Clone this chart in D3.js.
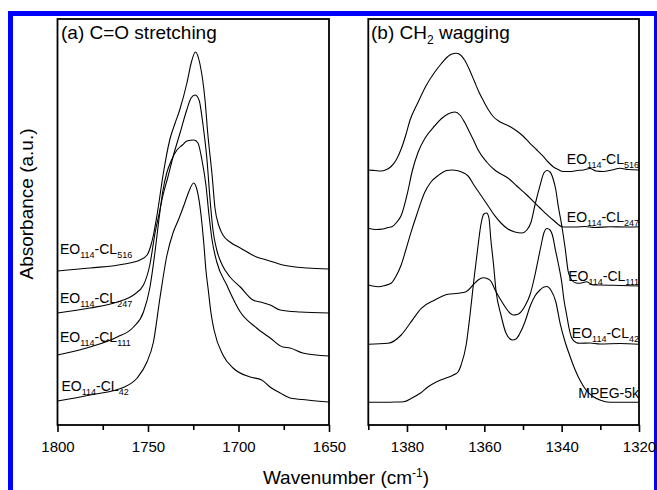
<!DOCTYPE html>
<html>
<head>
<meta charset="utf-8">
<script src="https://cdn.jsdelivr.net/npm/d3@7"></script>
<style>
body { margin: 0; background: #fff; }
text { font-family: "Liberation Sans", Arial, sans-serif; fill: #000; }
</style>
</head>
<body>
<script>
// spectra: [wavenumber (cm-1), absorbance (a.u., stacked offsets)]

// (a) C=O stretching
var coCL516 = [[1800,1.54],[1782,1.57],[1763,1.61],[1754.5,1.65],[1750.5,1.70],[1748.5,1.79],[1747,1.90],[1745,2.10],[1741.5,2.52],[1738,2.85],[1735,3.02],[1732.5,3.15],[1728.5,3.42],[1726,3.63],[1723.8,3.73],[1721.3,3.61],[1718.5,3.25],[1717,2.92],[1714.6,2.50],[1713,2.17],[1710.8,1.99],[1708.6,1.90],[1704.7,1.83],[1699,1.77],[1690,1.68],[1684.5,1.65],[1675.5,1.60],[1662,1.57],[1650,1.56]];
var coCL247 = [[1800,1.12],[1782,1.17],[1767,1.23],[1758,1.30],[1752.5,1.40],[1749,1.60],[1746,1.93],[1744,2.10],[1741.7,2.30],[1739,2.48],[1736.2,2.68],[1732.3,2.92],[1728.6,3.15],[1726.2,3.27],[1724,3.30],[1721.8,3.25],[1719.6,3.00],[1717.4,2.65],[1715.7,2.25],[1714.1,1.95],[1712,1.75],[1709,1.60],[1704.7,1.48],[1699,1.38],[1692,1.25],[1688,1.23],[1682.5,1.20],[1677,1.15],[1666,1.13],[1650,1.12]];
var coCL111 = [[1800,0.70],[1782,0.78],[1767,0.88],[1758,0.98],[1752.5,1.13],[1749,1.37],[1746,1.75],[1744,2.05],[1741.7,2.35],[1739.5,2.53],[1737,2.65],[1734,2.75],[1731,2.80],[1728.5,2.84],[1724.6,2.85],[1722.4,2.82],[1720.2,2.65],[1718,2.40],[1716.3,2.10],[1714.6,1.85],[1712,1.63],[1706.5,1.40],[1699,1.13],[1690,0.97],[1682.5,0.87],[1675.5,0.78],[1671.5,0.77],[1664.5,0.72],[1650,0.69]];
var coCL42 = [[1800,0.24],[1782,0.30],[1763,0.38],[1756,0.47],[1750.6,0.63],[1747,0.83],[1743.4,1.27],[1739.5,1.70],[1736.2,1.92],[1733,2.06],[1730.3,2.19],[1727.5,2.33],[1724.8,2.42],[1722.9,2.35],[1720.7,2.10],[1719.1,1.80],[1718,1.55],[1716.7,1.35],[1715.2,1.12],[1713.5,0.95],[1708.6,0.70],[1703,0.57],[1693.6,0.48],[1687.2,0.45],[1682.6,0.38],[1677,0.32],[1671.5,0.27],[1662,0.25],[1650,0.23]];

// (b) CH2 wagging
var chCL516 = [[1390,2.55],[1388.3,2.545],[1386.7,2.54],[1385.4,2.553],[1384.1,2.585],[1382.8,2.65],[1381.5,2.76],[1380.3,2.90],[1379.2,3.05],[1377.1,3.23],[1375.1,3.39],[1372.8,3.53],[1371.2,3.61],[1369.4,3.685],[1368.4,3.71],[1367.3,3.717],[1366.3,3.705],[1365.1,3.65],[1363.7,3.54],[1362.6,3.44],[1361.4,3.33],[1360.2,3.24],[1358.9,3.15],[1357.6,3.08],[1356.3,3.04],[1355.1,3.015],[1353.4,2.985],[1351.6,2.94],[1350,2.89],[1348.2,2.817],[1346.4,2.75],[1344.7,2.683],[1343.5,2.63],[1342.2,2.583],[1340.9,2.555],[1339.6,2.535],[1337.8,2.535],[1336,2.545],[1334.4,2.55],[1332.7,2.565],[1331.1,2.54],[1329.3,2.535],[1327,2.55],[1324.9,2.567],[1322.8,2.555],[1320,2.55]];
var chCL247 = [[1390,1.967],[1388,1.955],[1386.2,1.96],[1384.9,1.975],[1383.9,1.983],[1382.6,2.03],[1381.5,2.095],[1379.7,2.35],[1378.7,2.53],[1377.1,2.73],[1375.3,2.87],[1372.8,2.993],[1370.9,3.07],[1369.4,3.11],[1367.6,3.13],[1366.3,3.10],[1365.1,3.027],[1363.7,2.92],[1362.8,2.85],[1361.6,2.75],[1359.4,2.63],[1357.3,2.55],[1355.9,2.515],[1353.9,2.47],[1351.6,2.39],[1349,2.30],[1345.6,2.17],[1342.2,2.05],[1339.6,1.98],[1336.5,1.98],[1334,1.985],[1331.4,1.975],[1327.5,1.983],[1323.6,1.98],[1320,1.983]];
var chCL111 = [[1390,1.40],[1387.5,1.383],[1385.7,1.395],[1384.1,1.417],[1382.8,1.49],[1381.5,1.60],[1380.3,1.75],[1378.9,1.933],[1377.5,2.10],[1375.4,2.327],[1373.8,2.43],[1372,2.493],[1369.7,2.545],[1368.4,2.55],[1366.8,2.543],[1365.3,2.52],[1364.2,2.49],[1362.7,2.40],[1360.8,2.293],[1359,2.19],[1357.3,2.093],[1355.7,2.02],[1353.9,1.96],[1352.1,1.93],[1350.3,1.92],[1349,1.95],[1347.9,2.03],[1346.9,2.20],[1345.6,2.393],[1344.6,2.52],[1343.8,2.545],[1343,2.53],[1342.2,2.46],[1341.5,2.35],[1340.9,2.193],[1340,2.00],[1339.1,1.77],[1338.3,1.533],[1337.4,1.45],[1336.3,1.42],[1335.3,1.417],[1333.5,1.433],[1331.9,1.40],[1330.1,1.40],[1324.9,1.395],[1320,1.39]];
var chCL42 = [[1390,0.807],[1384.9,0.817],[1381.5,0.90],[1378.9,1.033],[1376.3,1.167],[1372.8,1.25],[1369.4,1.307],[1366.8,1.317],[1364.7,1.333],[1362.9,1.40],[1361.6,1.45],[1360.3,1.473],[1359,1.46],[1358.2,1.433],[1357.2,1.35],[1356,1.267],[1354.6,1.18],[1353.4,1.12],[1352.5,1.10],[1351.5,1.105],[1350.8,1.12],[1349.5,1.19],[1348.2,1.30],[1346.9,1.50],[1346.1,1.65],[1345.3,1.80],[1344.6,1.92],[1343.8,1.965],[1343,1.95],[1342.2,1.87],[1341.7,1.767],[1340.9,1.62],[1340,1.433],[1339.4,1.25],[1338.7,1.10],[1338.1,0.97],[1337.4,0.87],[1336.3,0.825],[1335.3,0.817],[1332.7,0.82],[1330.1,0.81],[1324.9,0.815],[1320,0.807]];
var chMPEG = [[1390,0.227],[1387,0.227],[1383.1,0.23],[1380.9,0.233],[1378.7,0.27],[1376.6,0.317],[1374.6,0.38],[1372.3,0.433],[1370.2,0.465],[1368,0.50],[1366.8,0.53],[1366,0.60],[1364.7,0.80],[1363.7,1.10],[1362.7,1.45],[1361.6,1.80],[1360.9,2.00],[1360.1,2.11],[1359.4,2.12],[1358.8,2.07],[1358.3,1.85],[1357.6,1.60],[1357,1.35],[1355.7,1.10],[1354.4,0.92],[1352.8,0.85],[1351.8,0.86],[1350.8,0.917],[1349.5,1.03],[1348.2,1.183],[1346.9,1.29],[1345.6,1.35],[1344.6,1.38],[1343.8,1.385],[1342.8,1.35],[1341.5,1.23],[1340.4,1.017],[1339.1,0.83],[1337.8,0.683],[1336.5,0.55],[1335.3,0.45],[1333.7,0.35],[1331.8,0.283],[1330.1,0.25],[1327.5,0.227],[1320,0.227]];

var coTicksMajor = [1800, 1750, 1700, 1650];
var coTicksMinor = [1775, 1725, 1675];
var chTicksMajor = [1380, 1360, 1340, 1320];
var chTicksMinor = [1390, 1370, 1350, 1330];

var W = 657, H = 490;
var plotTop = 19, plotBottom = 425;

var svg = d3.select("body").append("svg")
    .attr("width", W)
    .attr("height", H);

// blue frame around the figure
svg.append("rect").attr("x", 8).attr("y", 11).attr("width", 649).attr("height", 5).attr("fill", "#0000ff");
svg.append("rect").attr("x", 8).attr("y", 11).attr("width", 5).attr("height", H - 11).attr("fill", "#0000ff");
svg.append("rect").attr("x", 654).attr("y", 11).attr("width", 3).attr("height", H - 11).attr("fill", "#0000ff");

var y = d3.scaleLinear().domain([0, 4.06]).range([plotBottom, plotTop]);

var xA = d3.scaleLinear().domain([1800, 1650]).range([57.5, 329]);
var xB = d3.scaleLinear().domain([1390, 1320]).range([368.3, 639]);

function drawPanel(id, x, series, major, minor) {
    var g = svg.append("g");
    var r = x.range();

    g.append("clipPath").attr("id", id)
        .append("rect")
        .attr("x", r[0]).attr("y", plotTop)
        .attr("width", r[1] - r[0]).attr("height", plotBottom - plotTop);

    var line = d3.line()
        .x(function(d) { return x(d[0]); })
        .y(function(d) { return y(d[1]); })
        .curve(d3.curveMonotoneX);

    g.append("g").attr("clip-path", "url(#" + id + ")")
        .selectAll("path")
        .data(series)
        .enter()
        .append("path")
        .attr("d", line)
        .attr("fill", "none")
        .attr("stroke", "#000")
        .attr("stroke-width", 1.1);

    var axMajor = g.append("g")
        .attr("transform", "translate(0," + plotBottom + ")")
        .call(d3.axisBottom(x).tickValues(major).tickSize(7).tickPadding(9).tickFormat(d3.format("d")));
    var axMinor = g.append("g")
        .attr("transform", "translate(0," + plotBottom + ")")
        .call(d3.axisBottom(x).tickValues(minor).tickSize(5).tickFormat(""));
    [axMajor, axMinor].forEach(function(a) {
        a.select(".domain").remove();
        a.selectAll("line").attr("stroke", "#000").attr("stroke-width", 1.6);
        a.selectAll("text").attr("font-size", 15).attr("font-family", null);
    });

    g.append("rect")
        .attr("x", r[0]).attr("y", plotTop)
        .attr("width", r[1] - r[0]).attr("height", plotBottom - plotTop)
        .attr("fill", "none")
        .attr("stroke", "#000")
        .attr("stroke-width", 1.8);
    return g;
}

drawPanel("clipA", xA, [coCL516, coCL247, coCL111, coCL42], coTicksMajor, coTicksMinor);
drawPanel("clipB", xB, [chCL516, chCL247, chCL111, chCL42, chMPEG], chTicksMajor, chTicksMinor);

// text with sub/superscripts: parts are [string, shift]
function richText(x0, y0, anchor, size, parts) {
    var t = svg.append("text")
        .attr("x", x0).attr("y", y0)
        .attr("text-anchor", anchor)
        .attr("font-size", size);
    var cur = 0;
    parts.forEach(function(p) {
        var shift = p[1];
        t.append("tspan")
            .attr("dy", shift - cur)
            .attr("font-size", shift === 0 ? size : Math.round(size * 0.64))
            .text(p[0]);
        cur = shift;
    });
    return t;
}

function eoLabel(x0, y0, anchor, n) {
    return richText(x0, y0, anchor, 14, [["EO", 0], ["114", 4], ["-CL", 0], [n, 4]]);
}

// panel titles
richText(61, 39, "start", 19, [["(a) C=O stretching", 0]]);
richText(371, 39, "start", 19, [["(b) CH", 0], ["2", 5], [" wagging", 0]]);

// labels for panel a
eoLabel(60, 254, "start", "516");
eoLabel(60, 302.5, "start", "247");
eoLabel(60, 342, "start", "111");
eoLabel(61.5, 391, "start", "42");

// labels for panel b
eoLabel(639, 164, "end", "516");
eoLabel(639, 222, "end", "247");
eoLabel(639, 280.5, "end", "111");
eoLabel(639, 337.5, "end", "42");
richText(639, 397.5, "end", 14, [["MPEG-5k", 0]]);

// axis titles
svg.append("text")
    .attr("transform", "translate(32.5,204) rotate(-90)")
    .attr("text-anchor", "middle")
    .attr("font-size", 19)
    .text("Absorbance (a.u.)");

richText(346, 484, "middle", 19, [["Wavenumber (cm", 0], ["-1", -7], [")", 0]]);
</script>
</body>
</html>
